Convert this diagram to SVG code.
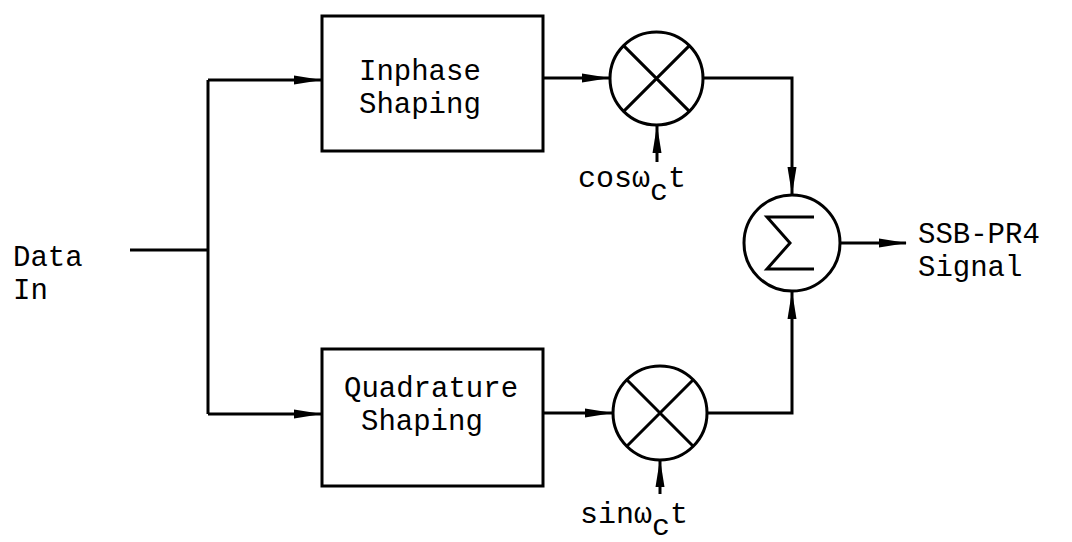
<svg xmlns="http://www.w3.org/2000/svg" width="1072" height="542" viewBox="0 0 1072 542">
<style>
.ln{fill:none;stroke:#000;stroke-width:3;stroke-linejoin:miter}
.bx{fill:#fff;stroke:#000;stroke-width:3}
.t{font-family:"Liberation Mono","DejaVu Sans Mono",monospace;font-size:29px;fill:#000}
.s{font-family:"Liberation Mono","DejaVu Sans Mono",monospace;font-size:30px;fill:#000}
</style>
<defs>
<marker id="ah" markerUnits="userSpaceOnUse" markerWidth="28" markerHeight="12" refX="27" refY="6" orient="auto">
<path d="M0,1.5 L28,6 L0,10.5 z" fill="#000"/>
</marker>
</defs>
<rect width="1072" height="542" fill="#fff"/>
<g id="connectors">
<path class="ln" d="M130,250 H208"/>
<path class="ln" d="M208,80 V414"/>
<path class="ln" d="M208,80 H321" marker-end="url(#ah)"/>
<path class="ln" d="M208,414 H321" marker-end="url(#ah)"/>
<path class="ln" d="M543,78 H609" marker-end="url(#ah)"/>
<path class="ln" d="M543,413 H612" marker-end="url(#ah)"/>
<path class="ln" d="M657,162 V126" marker-end="url(#ah)"/>
<path class="ln" d="M660,494 V460" marker-end="url(#ah)"/>
<path class="ln" d="M703,78 H792 V194" marker-end="url(#ah)"/>
<path class="ln" d="M707,413 H792 V292" marker-end="url(#ah)"/>
<path class="ln" d="M840,243 H906" marker-end="url(#ah)"/>
</g>
<g id="data-in">
<text class="t" x="13" y="266">Data</text>
<text class="t" x="13" y="299">In</text>
</g>
<g id="inphase-shaping">
<rect class="bx" x="322" y="16" width="221" height="135"/>
<text class="t" x="359" y="80">Inphase</text>
<text class="t" x="359" y="113">Shaping</text>
</g>
<g id="quadrature-shaping">
<rect class="bx" x="322" y="349" width="221" height="137"/>
<text class="t" x="344" y="397">Quadrature</text>
<text class="t" x="361" y="430">Shaping</text>
</g>
<g id="mixer-cos">
<circle class="bx" cx="656.5" cy="78.5" r="46.5"/>
<path class="ln" d="M623.6,45.6 L689.4,111.4 M689.4,45.6 L623.6,111.4"/>
</g>
<g id="mixer-sin">
<circle class="bx" cx="660" cy="413" r="47"/>
<path class="ln" d="M626.8,379.8 L693.2,446.2 M693.2,379.8 L626.8,446.2"/>
</g>
<g id="cos-label">
<text class="s" x="578" y="187">cosω<tspan dy="13">c</tspan><tspan dy="-13">t</tspan></text>
</g>
<g id="sin-label">
<text class="s" x="580" y="523">sinω<tspan dy="12">c</tspan><tspan dy="-12">t</tspan></text>
</g>
<g id="summer">
<circle class="bx" cx="792" cy="243" r="48"/>
<path class="ln" d="M814,217 H767 L790,243 L767,269 H814"/>
</g>
<g id="output-label">
<text class="t" x="918" y="243">SSB-PR4</text>
<text class="t" x="918" y="276">Signal</text>
</g>
</svg>
